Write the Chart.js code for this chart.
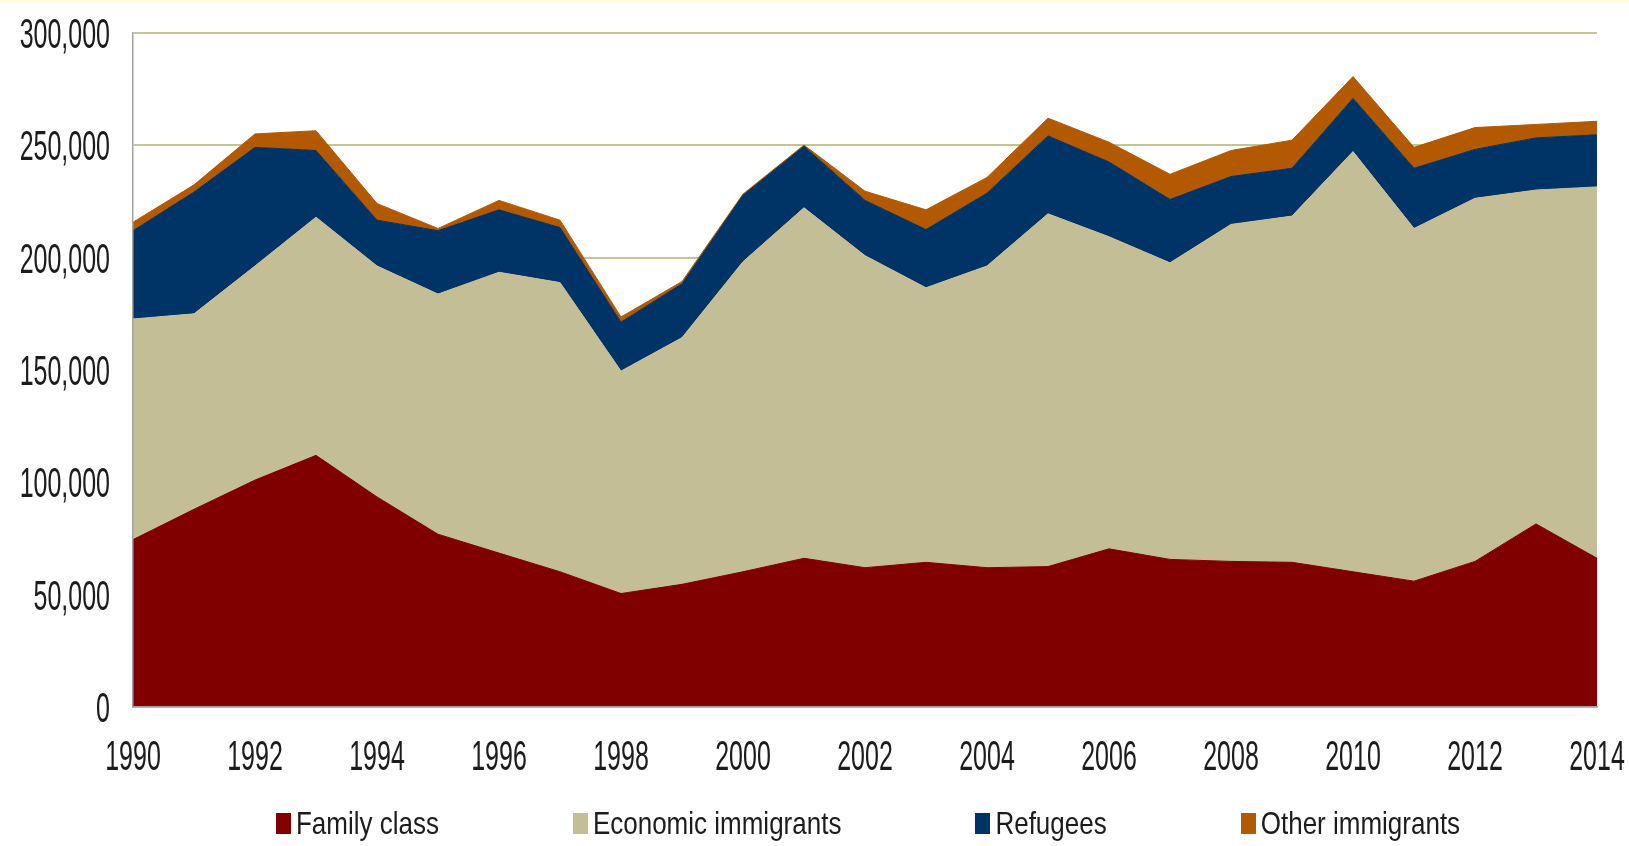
<!DOCTYPE html>
<html>
<head>
<meta charset="utf-8">
<title>Immigrants by category, 1990-2014</title>
<script src="https://cdn.jsdelivr.net/npm/chart.js@4.4.1/dist/chart.umd.min.js"></script>
<style>
    html, body { margin: 0; padding: 0; background: #ffffff; }
    body {
        position: relative;
        width: 1629px;
        height: 846px;
        overflow: hidden;
        box-sizing: border-box;
        border-top: 3px solid #fffbdc;
        font-family: 'Liberation Sans', Arial, sans-serif;
    }
    #chart-wrap { position: absolute; left: 0; top: 0; width: 1629px; height: 843px; }
    #legend {
        position: absolute;
        left: 133px;
        top: 802px;
        width: 1464px;
        height: 36px;
        display: flex;
        justify-content: center;
        align-items: center;
        gap: 134px;
        padding-left: 6px;
        box-sizing: border-box;
    }
    .legend-item { display: flex; align-items: center; font-size: 26px; color: #1c1c1c; white-space: nowrap; }
    .legend-box { width: 15px; height: 21px; margin-right: 5px; }
    .legend-text { display: inline-block; transform: scaleY(1.24); }
</style>
</head>
<body>
<div id="chart-wrap"><canvas id="areaChart"></canvas></div>
<div id="legend"></div>

<script>
// --- dados ---
const years = ['1990', '1991', '1992', '1993', '1994', '1995', '1996', '1997', '1998', '1999',
    '2000', '2001', '2002', '2003', '2004', '2005', '2006', '2007', '2008', '2009',
    '2010', '2011', '2012', '2013', '2014'];

const familyClass = [74500, 88000, 101000, 112000, 93500, 76900, 68500, 60200, 50500, 54600,
    60200, 66200, 62000, 64400, 62000, 62500, 70400, 65700, 64800, 64400,
    60200, 56000, 64800, 81500, 66200];

const economicImmigrants = [98200, 87000, 95300, 106000, 102800, 106900, 125000, 128700, 99000, 109800,
    138000, 156000, 138900, 122200, 134300, 157000, 138900, 132000, 150000, 154100,
    187000, 157000, 161600, 148600, 165300];

const refugees = [39300, 54200, 52800, 29700, 20400, 28200, 27800, 24500, 21800, 24000,
    29600, 27400, 24600, 25900, 32400, 34700, 33300, 28200, 21300, 21300,
    23700, 26800, 21800, 23200, 23200];

const otherImmigrants = [3800, 3200, 6000, 8800, 7400, 1000, 4200, 3300, 2300, 1000,
    500, 500, 4100, 8800, 7000, 7900, 8800, 11200, 11600, 12500,
    9700, 9300, 9700, 6000, 6000];

const seriesNames = ['Family class', 'Economic immigrants', 'Refugees', 'Other immigrants'];
const seriesColors = ['#800000', '#c4be96', '#003366', '#b35a00'];

const yMin = 0;
const yMax = 300000;
const yStep = 50000;

const FONT_FAMILY = "'Liberation Sans', Arial, sans-serif";
const TICK_FONT_SIZE = 25;
const TICK_STRETCH = 1.68; // o texto original é estreito e alto

const formatNumber = (value) => new Intl.NumberFormat('en-US').format(value);

function buildDatasets() {
    const seriesValues = [familyClass, economicImmigrants, refugees, otherImmigrants];
    return seriesValues.map((values, i) => ({
        label: seriesNames[i],
        data: values,
        backgroundColor: seriesColors[i],
        borderColor: seriesColors[i],
        borderWidth: 1,
        pointRadius: 0,
        pointHoverRadius: 0,
        tension: 0,
        fill: i === 0 ? 'origin' : '-1'
    }));
}

function renderLegend() {
    const container = document.getElementById('legend');
    container.innerHTML = '';
    seriesNames.forEach((name, i) => {
        container.innerHTML += `
            <div class="legend-item">
                <span class="legend-box" style="background:${seriesColors[i]}"></span>
                <span class="legend-text">${name}</span>
            </div>`;
    });
}

// desenha um rótulo esticado na vertical, centrado em (cx, cy)
function drawTallText(ctx, text, cx, cy, align) {
    const capHeight = TICK_FONT_SIZE * 0.716 * TICK_STRETCH;
    ctx.save();
    ctx.translate(cx, cy + capHeight / 2);
    ctx.scale(1, TICK_STRETCH);
    ctx.textAlign = align;
    ctx.textBaseline = 'alphabetic';
    ctx.fillText(text, 0, 0);
    ctx.restore();
}

const tallTicksPlugin = {
    id: 'tallTicks',
    afterDraw(chart) {
        const { ctx, scales: { x, y } } = chart;
        ctx.save();
        ctx.fillStyle = '#1c1c1c';
        ctx.font = `${TICK_FONT_SIZE}px ${FONT_FAMILY}`;

        y.ticks.forEach((tick) => {
            drawTallText(ctx, formatNumber(tick.value), y.left + 110, y.getPixelForValue(tick.value), 'right');
        });

        x.ticks.forEach((tick, i) => {
            if (i % 2 !== 0) return;
            drawTallText(ctx, years[i], x.getPixelForTick(i), x.top + 48, 'center');
        });
        ctx.restore();
    }
};

function renderChart() {
    const ctx = document.getElementById('areaChart').getContext('2d');

    new Chart(ctx, {
        type: 'line',
        data: {
            labels: years,
            datasets: buildDatasets()
        },
        options: {
            responsive: true,
            maintainAspectRatio: false,
            animation: false,
            layout: {
                padding: { top: 30, right: 32, bottom: 0, left: 0 }
            },
            plugins: {
                legend: { display: false },
                tooltip: { enabled: false }
            },
            scales: {
                x: {
                    grid: { display: false, drawTicks: false },
                    border: { display: true, color: '#a3a3a3', width: 1.5, z: 1 },
                    ticks: { display: false, autoSkip: false },
                    afterFit: (scale) => { scale.height = 139; }
                },
                y: {
                    stacked: true,
                    min: yMin,
                    max: yMax,
                    grid: { color: '#c4c497', lineWidth: 2, drawTicks: false },
                    border: { display: true, color: '#a3a3a3', width: 1.5, z: 1 },
                    ticks: { display: false, stepSize: yStep },
                    afterFit: (scale) => { scale.width = 133; }
                }
            }
        },
        plugins: [tallTicksPlugin]
    });
}

renderLegend();
renderChart();
</script>
</body>
</html>
